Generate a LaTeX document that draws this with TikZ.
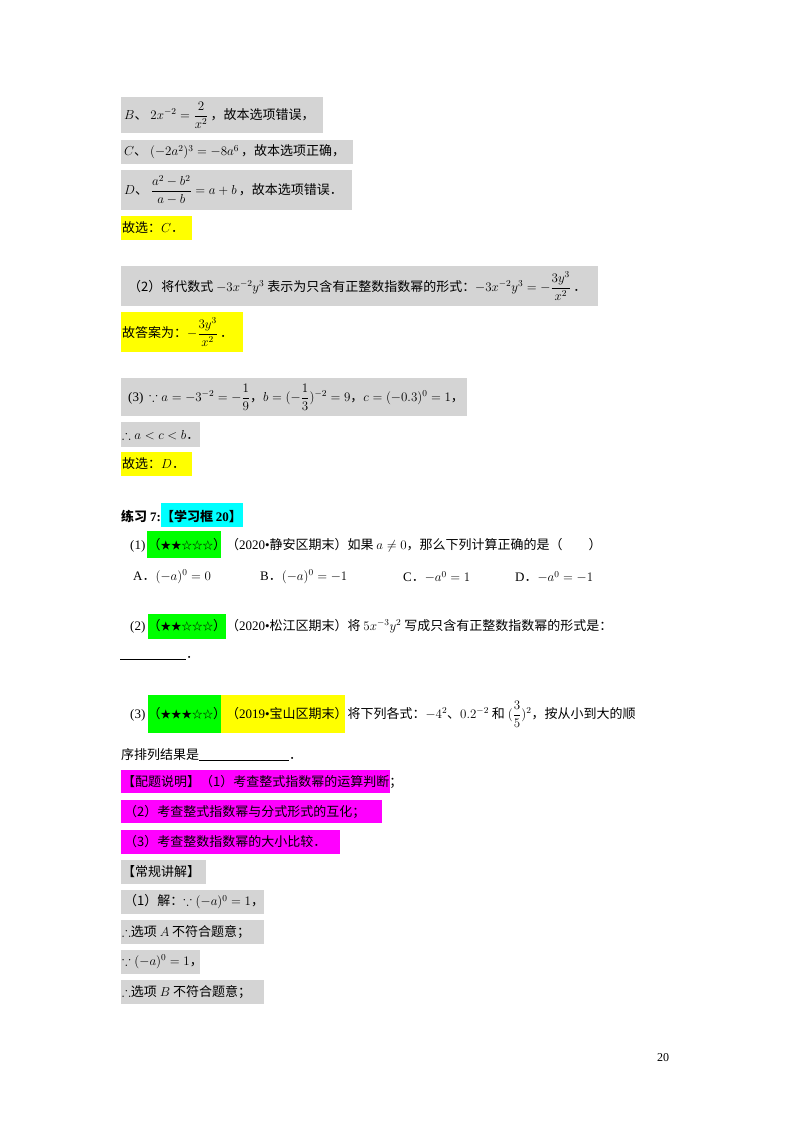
\RequirePackage{fix-cm}
\documentclass[tikz,border=0pt]{standalone}
\usepackage{amsmath,amssymb}
\usepackage{fontspec}
\setmainfont{Noto Sans CJK SC}
\newfontfamily\sr{Liberation Serif}
\definecolor{pmag}{rgb}{1,0,1}
\definecolor{pcyan}{rgb}{0,1,1}
\definecolor{pgreen}{rgb}{0,1,0}
\definecolor{pyel}{rgb}{1,1,0}
\newcommand{\stz}[1]{{\fontsize{10.5}{12}\selectfont #1}}
\begin{document}
\begin{tikzpicture}[x=1pt,y=-1pt,
  t/.style={anchor=west,inner sep=0pt,font=\fontsize{13}{16}\selectfont},
  gb/.style={fill=black!17,draw=none},
  yb/.style={fill=pyel,draw=none},
  mb/.style={fill=pmag,draw=none},
  grb/.style={fill=pgreen,draw=none},
  cb/.style={fill=pcyan,draw=none}]
\useasboundingbox[fill=white] (0,0) rectangle (800,1132);
% backgrounds
\fill[gb] (121,97) rectangle (323,133);
\fill[gb] (121,140) rectangle (353,164);
\fill[gb] (121,170) rectangle (352,210);
\fill[yb] (121,216) rectangle (192,240);
\fill[gb] (121,266) rectangle (598,306);
\fill[yb] (121,312) rectangle (243,352);
\fill[gb] (121,378) rectangle (467,416);
\fill[gb] (121,422) rectangle (200,447);
\fill[yb] (121,452) rectangle (192,476);
\fill[cb] (161,503) rectangle (243,527);
\fill[grb] (147,531) rectangle (221,558);
\fill[grb] (148,614) rectangle (226,639);
\fill[grb] (148,695) rectangle (221,733);
\fill[yb] (221,695) rectangle (345,733);
\fill[mb] (121,770) rectangle (390,793);
\fill[mb] (121,800) rectangle (382,823);
\fill[mb] (121,830) rectangle (340,854);
\fill[gb] (121,860) rectangle (206,884);
\fill[gb] (121,890) rectangle (264,914);
\fill[gb] (121,920) rectangle (264,944);
\fill[gb] (121,950) rectangle (200,974);
\fill[gb] (121,980) rectangle (264,1004);
% texts
\node[t] (l1) at (124,115) {$B$、\ $2x^{-2}=\dfrac{2}{x^2}$\,，故本选项错误，};
\node[t] (l2) at (124,152) {$C$、\ $(-2a^2)^3=-8a^6$\,，故本选项正确，};
\node[t] (l3) at (124,190) {$D$、\ $\dfrac{a^2-b^2}{a-b}=a+b$\,，故本选项错误．};
\node[t] (l4) at (122,228) {故选：$C$．};
\node[t] (l5) at (128,286) {（2）将代数式 $-3x^{-2}y^3$ 表示为只含有正整数指数幂的形式：$-3x^{-2}y^3=-\dfrac{3y^3}{x^2}$\,．};
\node[t] (l6) at (122,332) {故答案为：$-\dfrac{3y^3}{x^2}$\,．};
\node[t] (l7) at (128,397) {{\sr (3)}\ \ $\because a=-3^{-2}=-\dfrac{1}{9}$，$b=(-\dfrac{1}{3})^{-2}=9$，$c=(-0.3)^0=1$，};
\node[t] (l8) at (122,435) {$\therefore a<c<b$．};
\node[t] (l9) at (122,464) {故选：$D$．};
\node[t,font=\fontsize{13}{16}\selectfont\bfseries] (h) at (121,516) {练习 {\sr 7:}【学习框 {\sr 20}】};
\node[t] (q1) at (130,545) {{\sr (1)}\,（\stz{★★☆☆☆}）（{\sr 2020•}静安区期末）如果 $a\neq0$，那么下列计算正确的是（\qquad ）};
\node[t] (oa) at (133,577) {{\sr A}．$(-a)^0=0$};
\node[t] (ob) at (260,577) {{\sr B}．$(-a)^0=-1$};
\node[t] (oc) at (403,577) {{\sr C}．$-a^0=1$};
\node[t] (od) at (515,577) {{\sr D}．$-a^0=-1$};
\node[t] (q2) at (130,626) {{\sr (2)}\,（\stz{★★☆☆☆}）（{\sr 2020•}松江区期末）将 $5x^{-3}y^2$ 写成只含有正整数指数幂的形式是：};
\node[t] (q2b) at (120,658) {\rule[-1pt]{66pt}{0.5pt}．};
\node[t] (q3) at (130,714) {{\sr (3)}\,（\stz{★★★☆☆}）（{\sr 2019•}宝山区期末）将下列各式：$-4^2$、$0.2^{-2}$ 和 $(\dfrac{3}{5})^2$，按从小到大的顺};
\node[t] (q3b) at (121,755) {序排列结果是\rule[-1pt]{90pt}{0.5pt}．};
\node[t] (m1) at (122,782) {【配题说明】（1）考查整式指数幂的运算判断；};
\node[t] (m2) at (124,812) {（2）考查整式指数幂与分式形式的互化；};
\node[t] (m3) at (124,842) {（3）考查整数指数幂的大小比较．};
\node[t] (g1) at (122,872) {【常规讲解】};
\node[t] (g2) at (124,902) {（1）解：$\because(-a)^0=1$，};
\node[t] (g3) at (122,932) {$\therefore$选项 $A$ 不符合题意；};
\node[t] (g4) at (122,962) {$\because(-a)^0=1$，};
\node[t] (g5) at (122,992) {$\therefore$选项 $B$ 不符合题意；};
\node[t,font=\sr\fontsize{12}{14}\selectfont] (pg) at (657,1058) {20};
\end{tikzpicture}
\end{document}
